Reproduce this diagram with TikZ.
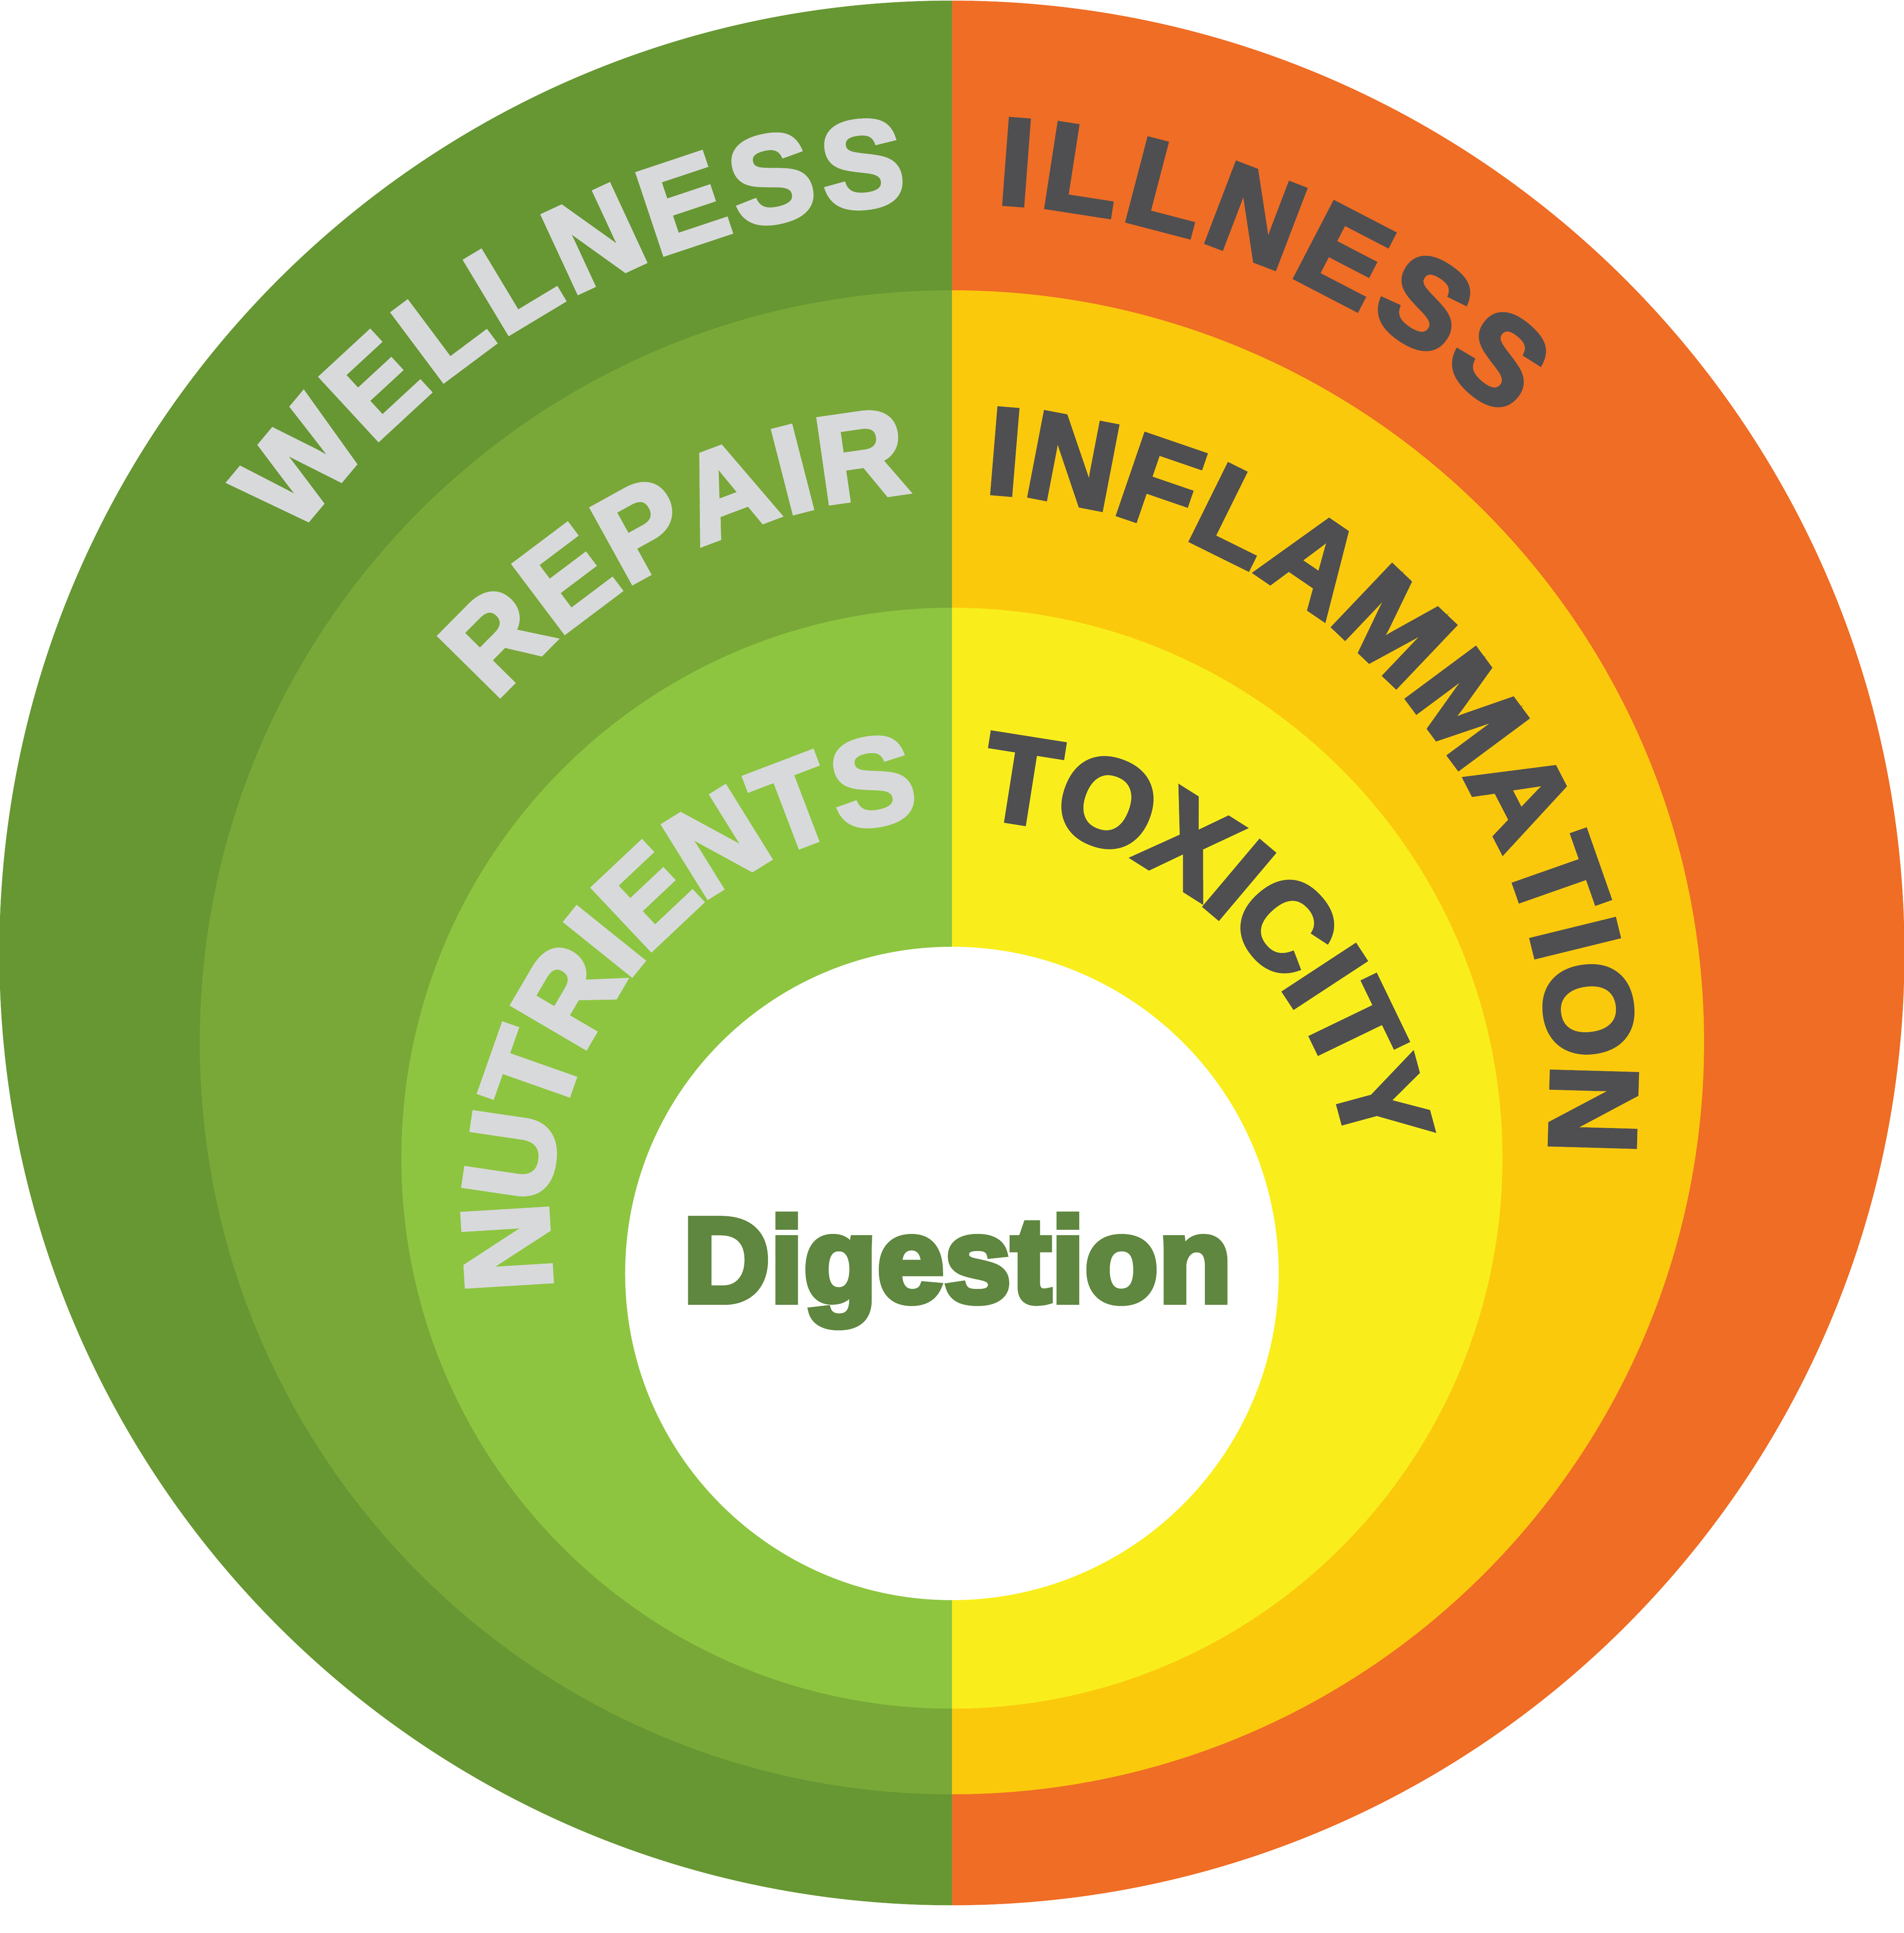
\documentclass[tikz,border=0pt]{standalone}
\usepackage{fontspec}
\usetikzlibrary{decorations.text}

\newfontfamily\heavyfont{Liberation Sans Bold}[FakeBold=3.5]
\newfontfamily\blackfont{Liberation Sans Bold}[FakeBold=5]
\newcommand{\ringfont}{\heavyfont\fontsize{28.5}{30}\selectfont}

\definecolor{wellness-green}{HTML}{679733}
\definecolor{repair-green}{HTML}{79A838}
\definecolor{nutrients-green}{HTML}{8DC540}
\definecolor{illness-orange}{HTML}{EF6D25}
\definecolor{inflammation-yellow}{HTML}{FBC90C}
\definecolor{toxicity-yellow}{HTML}{F9EE1C}
\definecolor{text-light}{HTML}{D8D9DB}
\definecolor{text-dark}{HTML}{4F4F51}
\definecolor{digestion-green}{HTML}{5F873F}

\tikzset{
  ring-text/.style={decorate, decoration={text along path, text align={fit to path}, raise=-3.6mm, text={#1}}},
  digest-label/.style={anchor=base, inner sep=0pt, text=digestion-green, font=\blackfont\fontsize{27.8}{30}\selectfont},
}

\begin{document}
\begin{tikzpicture}[x=0.1mm, y=0.1mm]

\useasboundingbox (0,0) rectangle (1544,1568);

% rings, green half and warm half
\foreach \cy/\r/\cl/\cr in {795/772.5/wellness-green/illness-orange,
    722.5/610/repair-green/inflammation-yellow,
    628.5/446.5/nutrients-green/toxicity-yellow} {
  \fill[\cl] (772,{\cy+\r}) arc[start angle=90, end angle=270, radius=\r] -- cycle;
  \fill[\cr] (772,{\cy-\r}) arc[start angle=-90, end angle=90, radius=\r] -- cycle;
}
\fill[white] (772,535) circle[radius=265];

\coordinate (outer-c) at (772,748);
\coordinate (middle-c) at (772,683);
\coordinate (inner-c) at (772,578);

\path[ring-text={|\ringfont\color{text-light}|WELLNESS}]
  ([shift={(outer-c)}]144:692) arc[start angle=144, end angle=93.3, radius=692];
\path[ring-text={|\ringfont\color{text-dark}|ILLNESS}]
  ([shift={(outer-c)}]86.8:692) arc[start angle=86.8, end angle=47.2, radius=692];

\path[ring-text={|\ringfont\color{text-light}|REPAIR}]
  ([shift={(middle-c)}]139.3:522) arc[start angle=139.3, end angle=94.2, radius=522];
\path[ring-text={|\ringfont\color{text-dark}|INFLAMMATION}]
  ([shift={(middle-c)}]86.8:522) arc[start angle=86.8, end angle=-5.6, radius=522];

\path[ring-text={|\ringfont\color{text-light}|NUTRIENTS}]
  ([shift={(inner-c)}]189.2:363) arc[start angle=189.2, end angle=95, radius=363];
\path[ring-text={|\ringfont\color{text-dark}|TOXICITY}]
  ([shift={(inner-c)}]85.8:363) arc[start angle=85.8, end angle=10, radius=363];

\node[digest-label] (digestion) at (776.5,512) {Digestion};

\end{tikzpicture}
\end{document}
